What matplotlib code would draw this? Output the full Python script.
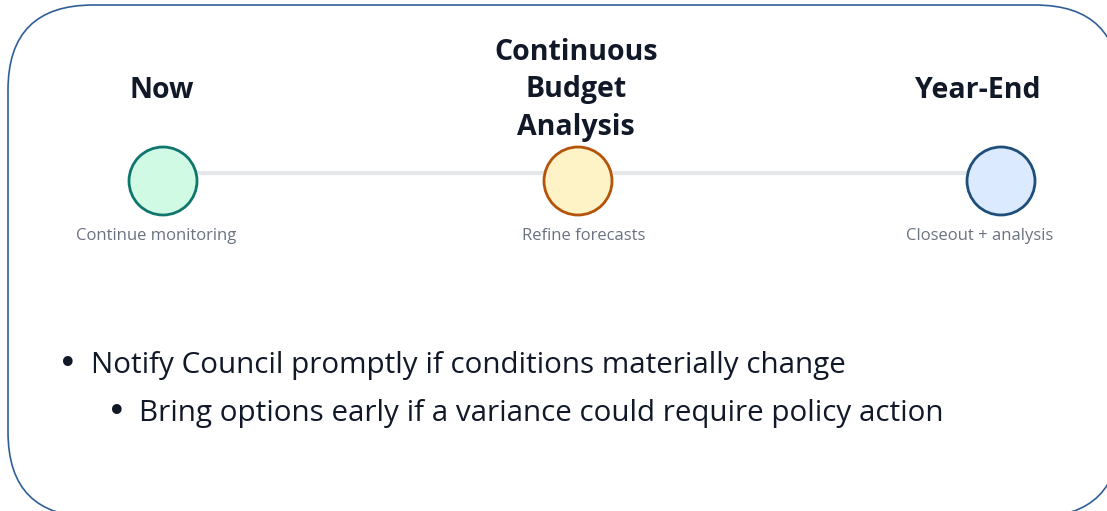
import matplotlib
matplotlib.use("Agg")
import matplotlib.pyplot as plt
from matplotlib.patches import FancyBboxPatch, Circle

# ---- data ----
stages = ["Now", "Continuous\nBudget\nAnalysis", "Year-End"]
subtitles = ["Continue monitoring", "Refine forecasts", "Closeout + analysis"]
fill_colors = ["#d1fae5", "#fef3c7", "#dbeafe"]
edge_colors = ["#0f766e", "#b45309", "#1e4e79"]
bullets = ["Notify Council promptly if conditions materially change"]
sub_bullets = ["Bring options early if a variance could require policy action"]

# ---- layout ----
node_x = [163, 578, 1001]
title_x = [162, 576, 978]
sub_x = [156, 584, 980]

W, H = 1107, 511
fig = plt.figure(figsize=(W / 100, H / 100), dpi=100)
ax = fig.add_axes([0, 0, 1, 1])
ax.set_xlim(0, W)
ax.set_ylim(H, 0)
ax.axis("off")

# frame
frame = FancyBboxPatch((8, 5), 1112, 512, boxstyle="round,pad=0,rounding_size=85",
                       fc="white", ec="#2f5f98", lw=1.2)
ax.add_patch(frame)

cy = 181
r = 34

# connector
ax.plot([node_x[0], node_x[-1]], [173, 173], color="#e5e7eb", lw=3, solid_capstyle="butt", zorder=1)

for nx, tx, sx, name, sub, fc, ec in zip(node_x, title_x, sub_x, stages, subtitles,
                                          fill_colors, edge_colors):
    ax.add_patch(Circle((nx, cy), r, fc=fc, ec=ec, lw=2, zorder=3))
    ax.text(tx, 90, name, ha="center", va="center", fontsize=20.5, fontweight="bold",
            color="#111827", family="Open Sans", linespacing=1.38)
    ax.text(sx, 236, sub, ha="center", va="center", fontsize=12, color="#6b7280",
            family="Open Sans")

for i, b in enumerate(bullets):
    y = 365 + i * 48
    ax.text(68, y, "•", ha="center", va="center", fontsize=24, color="#111827")
    ax.text(91, y, b, ha="left", va="center", fontsize=21.3, color="#111827", family="Open Sans")
for i, b in enumerate(sub_bullets):
    y = 413 + i * 48
    ax.text(117, y, "•", ha="center", va="center", fontsize=24, color="#111827")
    ax.text(139, y, b, ha="left", va="center", fontsize=21.3, color="#111827", family="Open Sans")

fig.savefig("out.png", dpi=100)
